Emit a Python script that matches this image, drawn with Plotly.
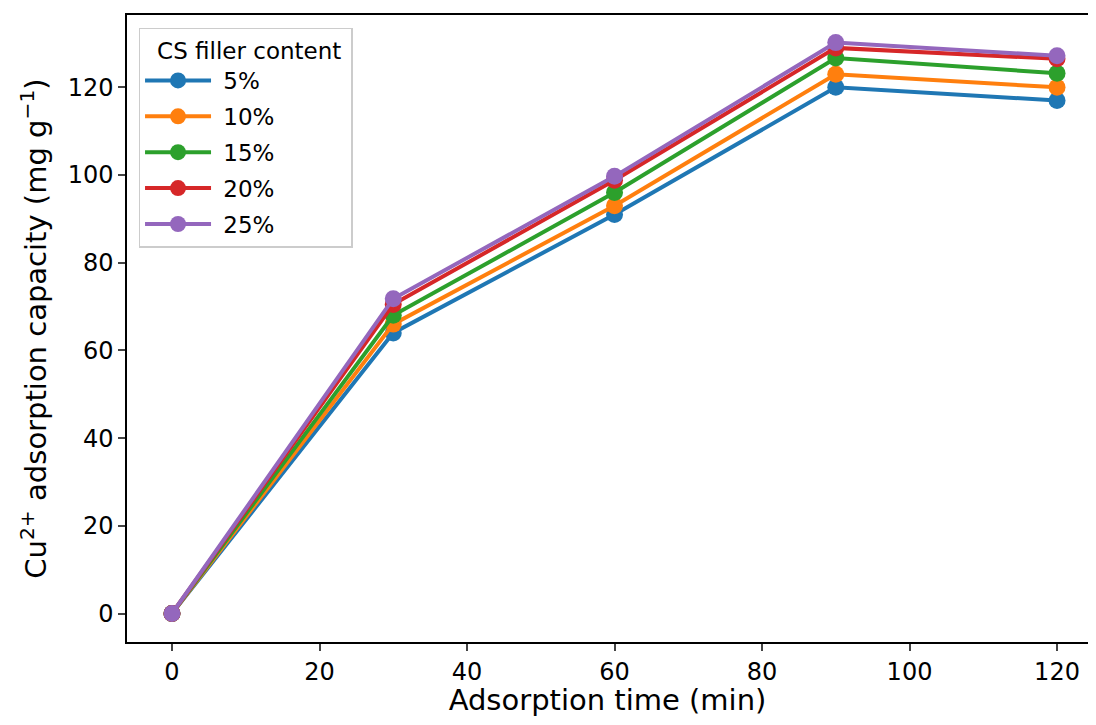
import plotly.graph_objects as go

time_min = [0, 30, 60, 90, 120]
labels = ["5%", "10%", "15%", "20%", "25%"]
series = [
    [0, 64.0, 91.0, 120.0, 117.0],
    [0, 66.0, 93.0, 123.0, 120.0],
    [0, 68.0, 96.0, 126.7, 123.2],
    [0, 70.5, 98.8, 129.0, 126.5],
    [0, 71.8, 99.7, 130.2, 127.2],
]
colors = ["#1f77b4", "#ff7f0e", "#2ca02c", "#d62728", "#9467bd"]
x_ticks = [0, 20, 40, 60, 80, 100, 120]
y_ticks = [0, 20, 40, 60, 80, 100, 120]

fig = go.Figure()
for lab, ys, c in zip(labels, series, colors):
    fig.add_trace(go.Scatter(
        x=time_min, y=ys, name="\u00a0" + lab, mode="lines+markers", legendgroup=lab,
        line=dict(color=c, width=4),
        marker=dict(color=c, size=17),
    ))

font = "DejaVu Sans, Arial, sans-serif"
# figure is drawn at page offset 8 px; keep page within 1096x725
fig.update_layout(
    width=1080, height=709,
    margin=dict(l=119, r=0, t=7, b=75, autoexpand=False),
    paper_bgcolor="white", plot_bgcolor="white",
    font=dict(family=font, size=24, color="black"),
    showlegend=True,
    legend=dict(
        x=0.012, y=0.98, xanchor="left", yanchor="top",
        bgcolor="white", bordercolor="#cccccc", borderwidth=1.5,
        font=dict(size=23, family=font),
        title=dict(text="\u00a0\u00a0CS filler content\u00a0", side="top center", font=dict(size=23, family=font)),
        itemwidth=66, tracegroupgap=3,
    ),
    xaxis=dict(
        range=[-6.1, 124.2], tickvals=x_ticks, ticks="outside", ticklen=7, tickwidth=1.5,
        showline=True, linecolor="black", linewidth=1.5, mirror=True,
        showgrid=False, zeroline=False, automargin=False,
        title=dict(text="Adsorption time (min)", font=dict(size=29), standoff=6),
        tickfont=dict(size=24),
    ),
    yaxis=dict(
        range=[-6.5, 136.5], tickvals=y_ticks, ticks="outside", ticklen=7, tickwidth=1.5,
        showline=True, linecolor="black", linewidth=1.5, mirror=False,
        showgrid=False, zeroline=False, automargin=False,
        title=dict(text="Cu<sup>2+</sup> adsorption capacity (mg g<sup>−1</sup>)", font=dict(size=29), standoff=12),
        tickfont=dict(size=24),
    ),
)
fig.write_html("out.html")
